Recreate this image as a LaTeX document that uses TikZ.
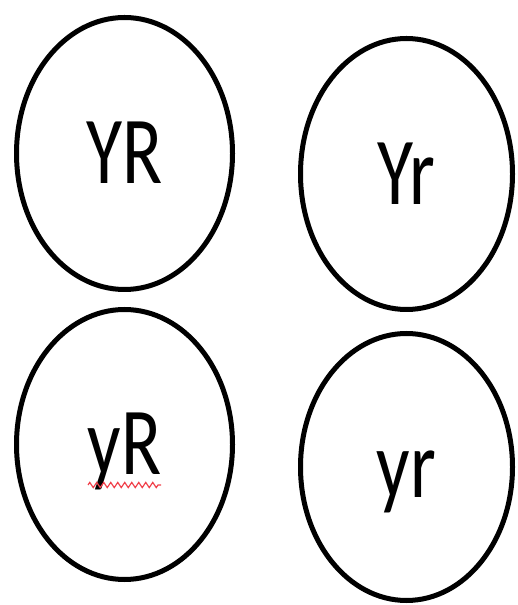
\documentclass[tikz,border=0pt]{standalone}
\usepackage{fontspec}
\newfontfamily\genefont[FakeStretch=0.77]{Carlito}
\usetikzlibrary{shapes.geometric,decorations.pathmorphing,calc}
\definecolor{spellred}{HTML}{F0404A}
\tikzset{
  gamete/.style={
    ellipse, draw=black, line width=5pt, inner sep=0pt,
    font=\genefont\fontsize{96}{100}\selectfont,
    text height=61pt, text depth=0pt
  },
  squiggle/.style={
    draw=spellred, line width=1.2pt,
    decorate, decoration={zigzag, segment length=7pt, amplitude=2.6pt}
  },
}
\begin{document}
\begin{tikzpicture}[x=1pt,y=1pt]
\useasboundingbox (0,0) rectangle (517,605);

% Top row
\node[gamete, minimum width=216pt, minimum height=272pt] (YR) at (124.5,451.5) {YR};
\node[gamete, minimum width=212pt, minimum height=271pt] (Yr) at (406.5,431) {Yr};

% Bottom row
\node[gamete, minimum width=216pt, minimum height=270pt] (yR) at (124.5,160.5) {yR};
\node[gamete, minimum width=212pt, minimum height=267pt] (yr) at (406.5,138) {yr};

% Spell-check mark under yR
\draw[squiggle] ($(yR.center)+(-36.5,-40.5)$) -- ++(73,0);

\end{tikzpicture}
\end{document}
